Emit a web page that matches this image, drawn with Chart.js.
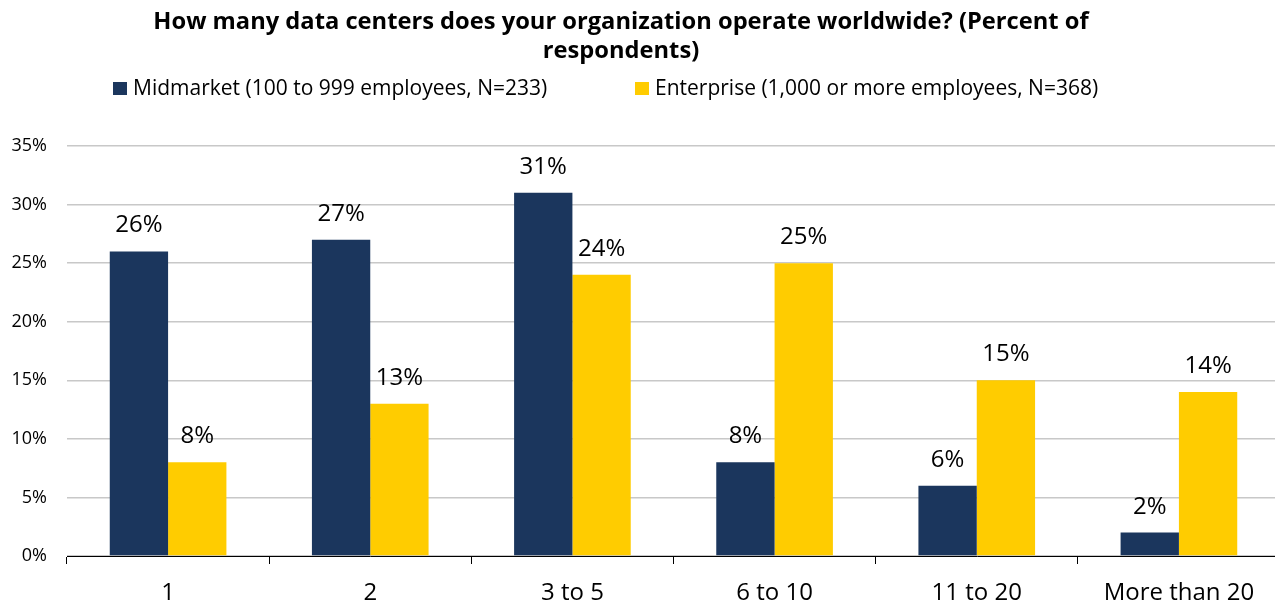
<!DOCTYPE html>
<html>
<head>
<meta charset="utf-8">
<script src="https://cdn.jsdelivr.net/npm/chart.js@4/dist/chart.umd.min.js"></script>
<style>
  html, body { margin: 0; padding: 0; background: #fff; overflow: hidden; }
  #wrap { width: 1280px; height: 605px; position: relative; }
</style>
</head>
<body>
<div id="wrap"><canvas id="grafico_dc"></canvas></div>
<script>
const categorias = ['1', '2', '3 to 5', '6 to 10', '11 to 20', 'More than 20'];
const midmarket = [26, 27, 31, 8, 6, 2];
const enterprise = [8, 13, 24, 25, 15, 14];
const ticksY = [0, 5, 10, 15, 20, 25, 30, 35];
const titulo = ['How many data centers does your organization operate worldwide? (Percent of', 'respondents)'];
const legendas = ['Midmarket (100 to 999 employees, N=233)', 'Enterprise (1,000 or more employees, N=368)'];

const AZUL = 'rgb(27, 54, 93)';
const AMARELO = 'rgb(255, 204, 0)';
const FONTE = '"Open Sans", "DejaVu Sans", sans-serif';

// titulo, legenda e rotulos de valor desenhados a mao
const extras = {
  id: 'extras',
  afterDatasetsDraw(chart) {
    const ctx = chart.ctx;
    ctx.save();
    ctx.fillStyle = '#000';
    ctx.textAlign = 'center';
    ctx.textBaseline = 'alphabetic';
    ctx.font = '24px ' + FONTE;
    chart.data.datasets.forEach((ds, i) => {
      chart.getDatasetMeta(i).data.forEach((bar, j) => {
        ctx.fillText(ds.data[j] + '%', bar.x, bar.y - 19);
      });
    });

    ctx.font = 'bold 23.7px ' + FONTE;
    ctx.fillText(titulo[0], 621, 29);
    ctx.fillText(titulo[1], 621, 58);

    ctx.font = '21px ' + FONTE;
    ctx.textAlign = 'left';
    const legX = [113, 635];
    [AZUL, AMARELO].forEach((cor, i) => {
      ctx.fillStyle = cor;
      ctx.fillRect(legX[i], 82, 14, 13);
      ctx.fillStyle = '#000';
      ctx.fillText(legendas[i], legX[i] + 20, 95);
    });
    ctx.restore();
  }
};

new Chart(document.getElementById('grafico_dc'), {
  type: 'bar',
  data: {
    labels: categorias,
    datasets: [
      { label: legendas[0], data: midmarket, backgroundColor: AZUL },
      { label: legendas[1], data: enterprise, backgroundColor: AMARELO }
    ]
  },
  options: {
    responsive: true,
    maintainAspectRatio: false,
    animation: false,
    categoryPercentage: 0.577,
    barPercentage: 1,
    layout: { padding: { top: 146, right: 0, bottom: 0, left: 0 } },
    scales: {
      x: {
        afterFit: axis => { axis.height = 49; },
        grid: {
          offset: true,
          drawOnChartArea: false,
          drawTicks: true,
          tickLength: 8,
          color: '#000'
        },
        border: { display: true, color: '#000', width: 1 },
        ticks: { color: '#000', font: { family: FONTE, size: 24 }, padding: 15 }
      },
      y: {
        min: 0,
        max: 35,
        afterBuildTicks: axis => { axis.ticks = ticksY.map(v => ({ value: v })); },
        afterFit: axis => { axis.width = 67; },
        grid: { color: '#c8c8c8', lineWidth: 1.5, drawTicks: false },
        border: { display: false },
        ticks: {
          color: '#000',
          padding: 20,
          font: { family: FONTE, size: 18 },
          callback: v => v + '%'
        }
      }
    },
    plugins: {
      legend: { display: false },
      title: { display: false },
      tooltip: { enabled: false }
    }
  },
  plugins: [extras]
});
</script>
</body>
</html>
